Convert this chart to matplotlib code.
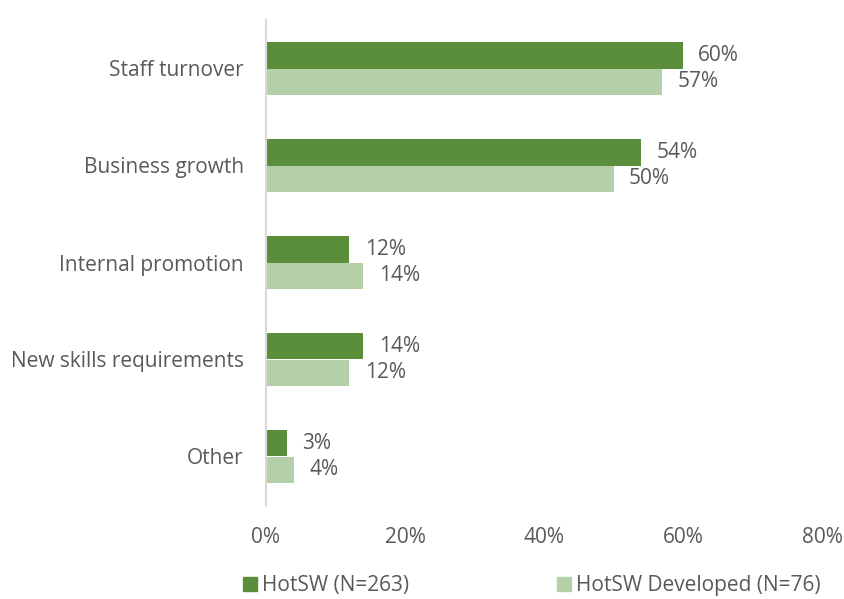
import matplotlib.pyplot as plt
import numpy as np

plt.rcParams['font.family'] = ['Open Sans', 'DejaVu Sans']

categories = ["Staff turnover", "Business growth", "Internal promotion",
              "New skills requirements", "Other"]
hotsw = [60, 54, 12, 14, 3]
hotsw_dev = [57, 50, 14, 12, 4]
series_names = ["HotSW (N=263)", "HotSW Developed (N=76)"]
xticks = [0, 20, 40, 60, 80]

dark = "#5B8E3A"
light = "#B5D0A8"
txt = "#595959"
fs = 15

fig = plt.figure(figsize=(8.44, 5.99), dpi=100)
ax = fig.add_axes([266 / 844, 1 - 505 / 599, (822 - 266) / 844, (505 - 20) / 599])

y = np.arange(len(categories))
h = 0.278
b1 = ax.barh(y - h / 2, hotsw, height=h, color=dark)
b2 = ax.barh(y + h / 2, hotsw_dev, height=h, color=light)

# value labels to the right of each bar
for bars, vals in [(b1, hotsw), (b2, hotsw_dev)]:
    for bar, v in zip(bars, vals):
        ax.annotate(f"{v}%", (v, bar.get_y() + bar.get_height() / 2),
                    xytext=(11, 0), textcoords="offset points",
                    va="center", ha="left", fontsize=fs, color=txt)

ax.set_ylim(len(categories) - 0.5, -0.5)
ax.set_xlim(0, 80)
ax.set_yticks(y)
ax.set_yticklabels(categories, fontsize=fs, color=txt)
ax.set_xticks(xticks)
ax.set_xticklabels([f"{t}%" for t in xticks], fontsize=fs, color=txt)
ax.tick_params(length=0)
ax.tick_params(axis="y", pad=16)
ax.tick_params(axis="x", pad=16)
for s in ["top", "right", "bottom"]:
    ax.spines[s].set_visible(False)
ax.spines["left"].set_color("#D9D9D9")
ax.spines["left"].set_linewidth(1.5)

handles = [plt.Rectangle((0, 0), 1, 1, color=dark),
           plt.Rectangle((0, 0), 1, 1, color=light)]
fig.legend(handles, series_names, loc="center left", bbox_to_anchor=(243 / 844, 1 - 586 / 599),
           ncol=2, frameon=False, fontsize=fs, handlelength=0.67, handleheight=0.67,
           handletextpad=0.25, columnspacing=7.1, borderpad=0, borderaxespad=0,
           labelcolor=txt)

fig.savefig("out.png", dpi=100)
